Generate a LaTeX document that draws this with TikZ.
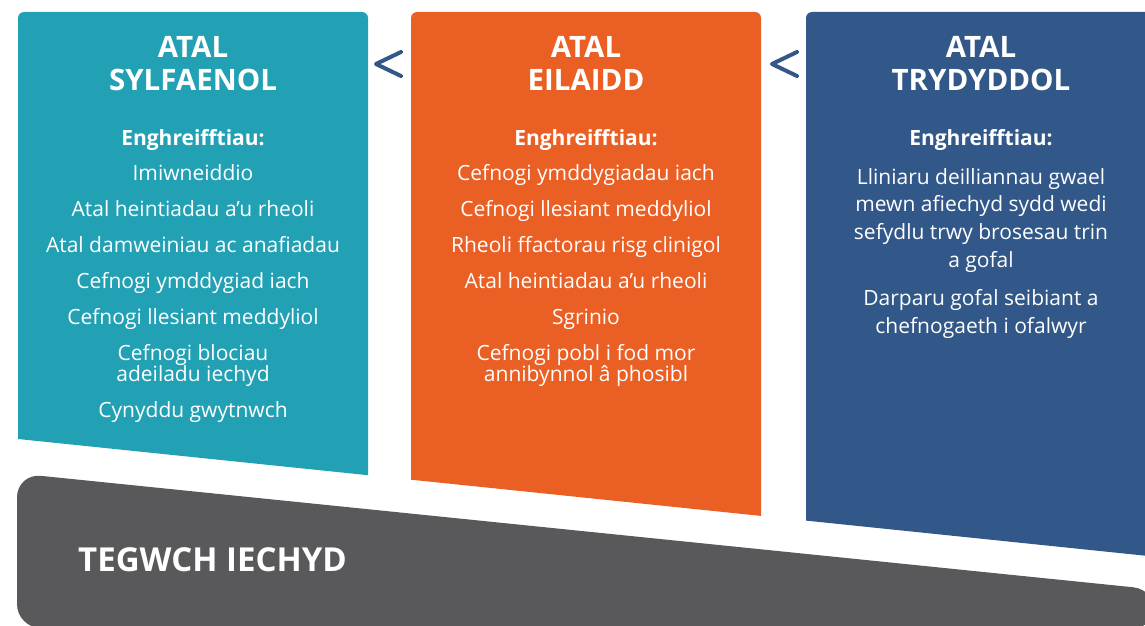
\documentclass[tikz,border=0pt]{standalone}
\usepackage{fontspec}
\setmainfont{Open Sans}
\usepackage{tikz}
\usetikzlibrary{positioning}
\definecolor{primbg}{HTML}{22A1B5}
\definecolor{secbg}{HTML}{EA5F24}
\definecolor{tertbg}{HTML}{325889}
\definecolor{basebg}{HTML}{59595B}
\definecolor{chevcol}{HTML}{34578A}

\begin{document}
\begin{tikzpicture}[x=1pt,y=-1pt,
  ttl/.style={text=white,align=center,inner sep=0pt,anchor=north,
    font=\fontsize{29.5}{33}\selectfont\bfseries},
  hd/.style={text=white,inner sep=0pt,anchor=base,font=\fontsize{21}{24}\selectfont\bfseries},
  lst/.style={text=white,align=center,inner sep=0pt,anchor=north,
    font=\fontsize{21}{21.6}\selectfont},
  chev/.style={chevcol,line width=4pt,line cap=round,line join=round}]
\clip (0,0) rectangle (1145,626);
% three columns, bottoms cut along one slanted line
\fill[primbg] (18,439) {[rounded corners=6pt] -- (18,12) -- (368,12)} -- (368,475.2) -- cycle;
\fill[secbg] (411,479.7) {[rounded corners=6pt] -- (411,12) -- (761,12)} -- (761,515.9) -- cycle;
\fill[tertbg] (806,520.6) {[rounded corners=6pt] -- (806,12) -- (1156,12)} -- (1156,556.8) -- cycle;
% base band
\fill[basebg,rounded corners=24pt] (600,628) -- (17,628) -- (17,473.4) -- (1157,589.7) -- (1157,628) -- cycle;

\draw[chev] (401,52) -- (376,64) -- (401,76);
\draw[chev] (797,52) -- (772,64) -- (797,76);

\node[ttl] (t1) at (193,36.5) {ATAL\\SYLFAENOL};
\node[ttl] (t2) at (586,36.5) {ATAL\\EILAIDD};
\node[ttl] (t3) at (981,36.5) {ATAL\\TRYDYDDOL};

\node[hd] (h1) at (193,145) {Enghreifftiau:};
\node[hd] (h2) at (586,145) {Enghreifftiau:};
\node[hd] (h3) at (981,145) {Enghreifftiau:};

\node[lst] (l1) at (193,164) {Imiwneiddio\\[14.4pt]
  Atal heintiadau a’u rheoli\\[14.4pt]
  Atal damweiniau ac anafiadau\\[14.4pt]
  Cefnogi ymddygiad iach\\[14.4pt]
  Cefnogi llesiant meddyliol\\[14.4pt]
  Cefnogi blociau\\adeiladu iechyd\\[14.4pt]
  Cynyddu gwytnwch};
\node[lst] (l2) at (586,164) {Cefnogi ymddygiadau iach\\[14.4pt]
  Cefnogi llesiant meddyliol\\[14.4pt]
  Rheoli ffactorau risg clinigol\\[14.4pt]
  Atal heintiadau a’u rheoli\\[14.4pt]
  Sgrinio\\[14.4pt]
  Cefnogi pobl i fod mor\\annibynnol â phosibl};
\node[lst,font=\fontsize{21}{27.7}\selectfont] (l3) at (981,168) {Lliniaru deilliannau gwael\\
  mewn afiechyd sydd wedi\\sefydlu trwy brosesau trin\\a gofal\\[10.6pt]
  Darparu gofal seibiant a\\chefnogaeth i ofalwyr};

\node[text=white,inner sep=0pt,anchor=base west,font=\fontsize{33}{36}\selectfont\bfseries]
  (eq) at (78,571.5) {TEGWCH IECHYD};
\end{tikzpicture}
\end{document}
